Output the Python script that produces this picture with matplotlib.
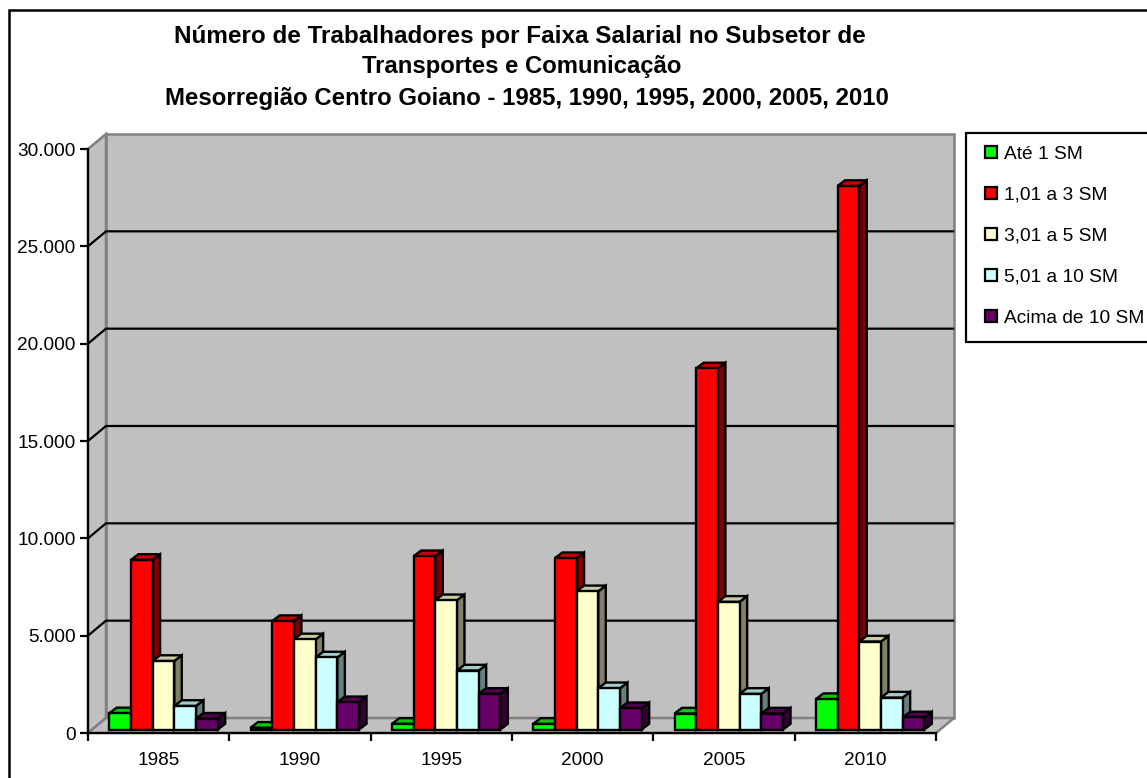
import matplotlib
matplotlib.use('Agg')
import matplotlib.pyplot as plt
from matplotlib.patches import Polygon, Rectangle, Patch

# values
anos = ['1985', '1990', '1995', '2000', '2005', '2010']
ate_1 = [830, 90, 290, 290, 820, 1560]
de_1_a_3 = [8710, 5570, 8900, 8800, 18550, 27920]
de_3_a_5 = [3520, 4630, 6640, 7100, 6560, 4520]
de_5_a_10 = [1210, 3700, 3030, 2120, 1830, 1640]
acima_10 = [555, 1400, 1830, 1095, 820, 620]

series = [ate_1, de_1_a_3, de_3_a_5, de_5_a_10, acima_10]
nomes = ['Até 1 SM', '1,01 a 3 SM', '3,01 a 5 SM', '5,01 a 10 SM', 'Acima de 10 SM']
frente = ['#00FF00', '#FF0000', '#FFFFCC', '#CCFFFF', '#660066']
lado = ['#008000', '#800000', '#808066', '#668080', '#330033']
topo = ['#00CC00', '#CC0000', '#CCCCA3', '#A3CCCC', '#520052']

yticks = [0, 5000, 10000, 15000, 20000, 25000, 30000]
titulo = ['Número de Trabalhadores por Faixa Salarial no Subsetor de',
          'Transportes e Comunicação',
          'Mesorregião Centro Goiano - 1985, 1990, 1995, 2000, 2005, 2010']

W, H = 1147, 778
plt.rcParams['font.family'] = ['Liberation Sans', 'DejaVu Sans']

fig = plt.figure(figsize=(W / 100, H / 100), dpi=100)
ax = fig.add_axes([88 / W, 1 - 733 / H, (936 - 88) / W, (733 - 149) / H])
ax.set_xlim(0, len(anos))
ax.set_ylim(0, 30000)
ax.patch.set_visible(False)

# pixels to data units
px = len(anos) / (936 - 88)
py = 30000 / (733 - 149)


def fig_px(x, y):
    return x / W, 1 - y / H


# outer border and legend frame
fig.add_artist(Rectangle(fig_px(9, 790), 1180 / W, 780 / H, transform=fig.transFigure,
                         fc='white', ec='black', lw=1.8, zorder=-5))
fig.add_artist(Rectangle(fig_px(966, 342), 200 / W, 209 / H, transform=fig.transFigure,
                         fc='white', ec='black', lw=1.6, zorder=-4))

# walls and floor
dx = 18 * px
dy = 15 * py
parede = '#C0C0C0'
cinza = '#808080'
ax.add_patch(Polygon([(dx, dy), (6 + dx, dy), (6 + dx, 30000 + dy), (dx, 30000 + dy)],
                     fc=parede, ec=cinza, lw=1.8, clip_on=False, zorder=1))
ax.add_patch(Polygon([(0, 0), (dx, dy), (dx, 30000 + dy), (0, 30000)],
                     fc=parede, ec=cinza, lw=1.8, clip_on=False, zorder=1))
ax.add_patch(Polygon([(0, 0), (6, 0), (6 + dx, dy), (dx, dy)],
                     fc=parede, ec=cinza, lw=1.8, clip_on=False, zorder=1))

# gridlines on back wall, with the diagonal on the side wall
for v in yticks[1:-1]:
    ax.plot([0, dx, 6 + dx - 1 * px], [v, v + dy, v + dy], color='black', lw=1.6,
            clip_on=False, zorder=2, solid_joinstyle='miter')

# bars with depth
larg = 21.7 * px
inicio = 21.2 * px
prof_x = 7.5 * px
prof_y = 5.7 * py
base = 3.5 * py
z = 3
for g in range(len(anos)):
    for s in range(len(series)):
        v = series[s][g]
        x0 = g + inicio + s * larg
        x1 = x0 + larg
        y0 = base
        y1 = base + v
        ax.add_patch(Polygon([(x1, y0), (x1 + prof_x, y0 + prof_y), (x1 + prof_x, y1 + prof_y), (x1, y1)],
                             fc=lado[s], ec='black', lw=1.7, clip_on=False, zorder=z))
        ax.add_patch(Polygon([(x0, y1), (x1, y1), (x1 + prof_x, y1 + prof_y), (x0 + prof_x, y1 + prof_y)],
                             fc=topo[s], ec='black', lw=1.7, clip_on=False, zorder=z))
        ax.bar(x0, v, width=larg, bottom=base, align='edge', color=frente[s], edgecolor='black',
               lw=1.7, clip_on=False, zorder=z + 0.5)
        z += 1

# axes
for lado_ax in ['top', 'right']:
    ax.spines[lado_ax].set_visible(False)
for lado_ax in ['left', 'bottom']:
    ax.spines[lado_ax].set_linewidth(1.6)
    ax.spines[lado_ax].set_zorder(2)
ax.set_yticks(yticks)
ax.set_yticklabels([f'{v:,}'.replace(',', '.') for v in yticks])
ax.set_xticks(range(len(anos) + 1))
ax.set_xticklabels([''] * (len(anos) + 1))
ax.tick_params(axis='y', length=6, width=1.6, labelsize=13.7, pad=3, colors='black')
ax.tick_params(axis='x', length=6, width=1.6)
for i, a in enumerate(anos):
    ax.annotate(a, (i + 0.5, 0), xytext=(0, -20), textcoords='offset points', ha='center', va='center',
                fontsize=13.7, annotation_clip=False)

# title, each line sits a bit differently in the original
for linha, x, y, tam in zip(titulo, [519.5, 522, 527], [37, 67, 98], [17.5, 17.2, 17.3]):
    fig.text(x / W, 1 - y / H, linha, ha='center', va='center', fontsize=tam, fontweight='bold')

# legend
alcas = [Patch(fc=c, ec='black', lw=1.6) for c in frente]
fig.legend(handles=alcas, labels=nomes, loc='upper left', bbox_to_anchor=fig_px(985, 146), frameon=False,
           fontsize=13.8, borderpad=0, borderaxespad=0, handlelength=0.62, handleheight=0.62,
           handletextpad=0.36, labelspacing=1.25)

fig.savefig('out.png', dpi=100)
